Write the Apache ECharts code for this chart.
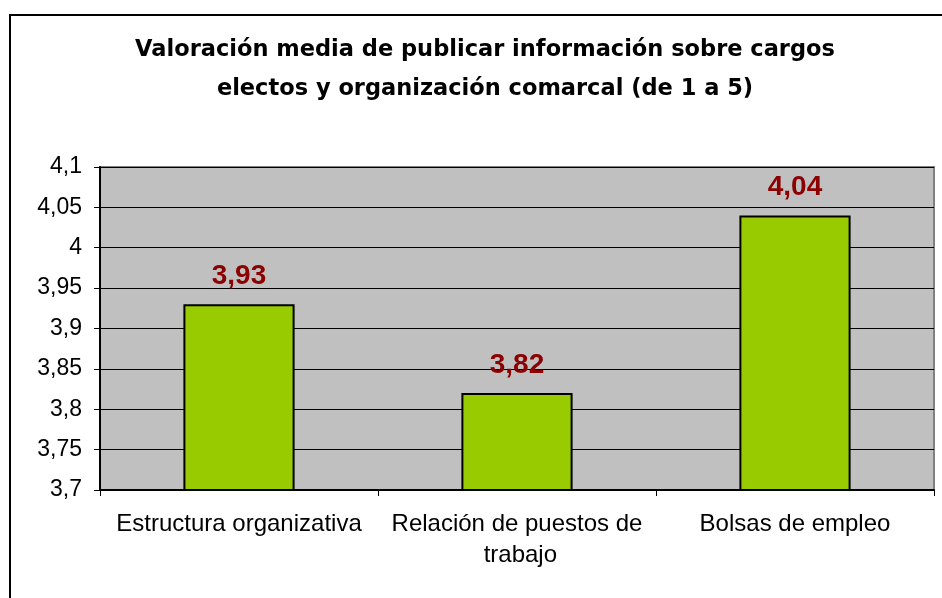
<!DOCTYPE html>
<html>
<head>
<meta charset="utf-8">
<script src="https://cdn.jsdelivr.net/npm/echarts@6/dist/echarts.min.js"></script>
<style>
  html, body { margin: 0; padding: 0; background: #fff; }
  #chart { width: 942px; height: 598px; }
</style>
</head>
<body>
<div id="chart"></div>
<script>
const categories = ['Estructura organizativa', 'Relación de puestos de trabajo', 'Bolsas de empleo']
const valores = [3.93, 3.82, 4.04]

const comma = v => String(parseFloat(Number(v).toFixed(2))).replace('.', ',')

const myChart = echarts.init(document.getElementById('chart'))
myChart.setOption({
  animation: false,
  textStyle: { fontFamily: 'Liberation Sans, Arial, sans-serif' },
  title: {
    text: 'Valoración media de publicar información sobre cargos\nelectos y organización comarcal (de 1 a 5)',
    left: 480,
    top: 26,
    textAlign: 'center',
    textStyle: { fontSize: 22.5, fontWeight: 'bold', color: '#000', lineHeight: 39, fontFamily: 'DejaVu Sans' }
  },
  graphic: [{
    type: 'rect',
    shape: { x: 10, y: 15, width: 1000, height: 700 },
    style: { fill: 'none', stroke: '#000', lineWidth: 2 },
    silent: true
  }],
  grid: {
    left: 100, right: 8, top: 167, bottom: 108,
    show: true,
    backgroundColor: '#C0C0C0',
    borderColor: '#808080',
    borderWidth: 2
  },
  xAxis: {
    type: 'category',
    data: categories,
    axisLine: { lineStyle: { color: '#000', width: 2 } },
    axisTick: { show: true, length: 6, lineStyle: { color: '#000' } },
    axisLabel: {
      color: '#000', fontSize: 24, margin: 19, lineHeight: 31,
      width: 262, overflow: 'break', interval: 0
    }
  },
  yAxis: {
    type: 'value',
    min: 3.7, max: 4.1, interval: 0.05,
    axisLine: { show: true, lineStyle: { color: '#000', width: 2 } },
    axisTick: { show: true, length: 6, lineStyle: { color: '#000' } },
    splitLine: { lineStyle: { color: '#000', width: 1 } },
    axisLabel: { color: '#000', fontSize: 23, margin: 18, formatter: comma }
  },
  series: [{
    type: 'bar',
    data: valores,
    barWidth: '40%',
    itemStyle: { color: '#99CC00', borderColor: '#000', borderWidth: 2 },
    label: {
      show: true, position: 'top', distance: 14,
      color: '#8B0000', fontSize: 28, fontWeight: 'bold',
      formatter: p => comma(p.value)
    }
  }]
})
</script>
</body>
</html>
